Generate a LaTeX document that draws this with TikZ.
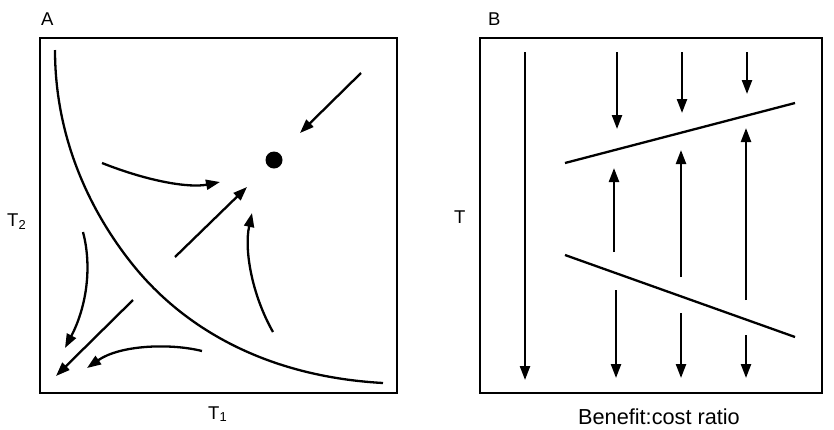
\documentclass[tikz,border=0pt]{standalone}
\usepackage{fontspec}
\setmainfont{Liberation Sans}
\usetikzlibrary{arrows.meta}
\begin{document}
\begin{tikzpicture}[x=1pt,y=-1pt,
  ln/.style={line width=2.3pt},
  ar/.style={line width=2.3pt,-{Triangle[length=14pt,width=10pt]}},
  lbl/.style={font=\fontsize{18.5}{18.5}\selectfont,inner sep=0pt},
  lblb/.style={font=\fontsize{21.7}{21.7}\selectfont,inner sep=0pt}]
\useasboundingbox (0,0) rectangle (834,429);
% Panel A
\draw[line width=2.4pt] (40,38) rectangle (397,393);
\node[lbl,anchor=base west] (labA) at (41,25.5) {A};
\node[lbl,anchor=base west] (labT2) at (7,226) {T\textsubscript{2}};
\node[lbl,anchor=base west] (labT1) at (208,419) {T\textsubscript{1}};
\draw[ln] (55,50) .. controls (55,150) and (100,224) .. (133,265)
               .. controls (166,306) and (240,375) .. (383,383);
\fill (274,160) circle (8.5);
\draw[ar] (361,73) -- (300,133);
\draw[ar] (175,257) -- (247,187);
\draw[ar] (102,163) .. controls (150,182) and (190,188) .. (220,182);
\draw[ar] (273,332) .. controls (252,295) and (244,250) .. (252,213);
\draw[ar] (83,232) .. controls (93,270) and (85,310) .. (65,348);
\draw[ar] (133,300) -- (56,376);
\draw[ar] (202,351) .. controls (170,343) and (120,345) .. (87,368);
% Panel B
\draw[line width=2.4pt] (480,38) rectangle (822,393);
\node[lbl,anchor=base west] (labB) at (488,25.5) {B};
\node[lbl,anchor=base west] (labT) at (454,223) {T};
\node[lblb,anchor=base] (labX) at (659,424) {Benefit:cost ratio};
\draw[ln] (565,163) -- (795,103);
\draw[ln] (565,255) -- (795,337);
\draw[ar] (525,52) -- (525,380);
\draw[ar] (617,52) -- (617,129);
\draw[ar] (614,252) -- (614,168);
\draw[ar] (616,290) -- (616,378);
\draw[ar] (682,52) -- (682,113);
\draw[ar] (681,277) -- (681,150);
\draw[ar] (681,313) -- (681,378);
\draw[ar] (747,52) -- (747,94);
\draw[ar] (746,300) -- (746,128);
\draw[ar] (746,335) -- (746,378);
\end{tikzpicture}
\end{document}
